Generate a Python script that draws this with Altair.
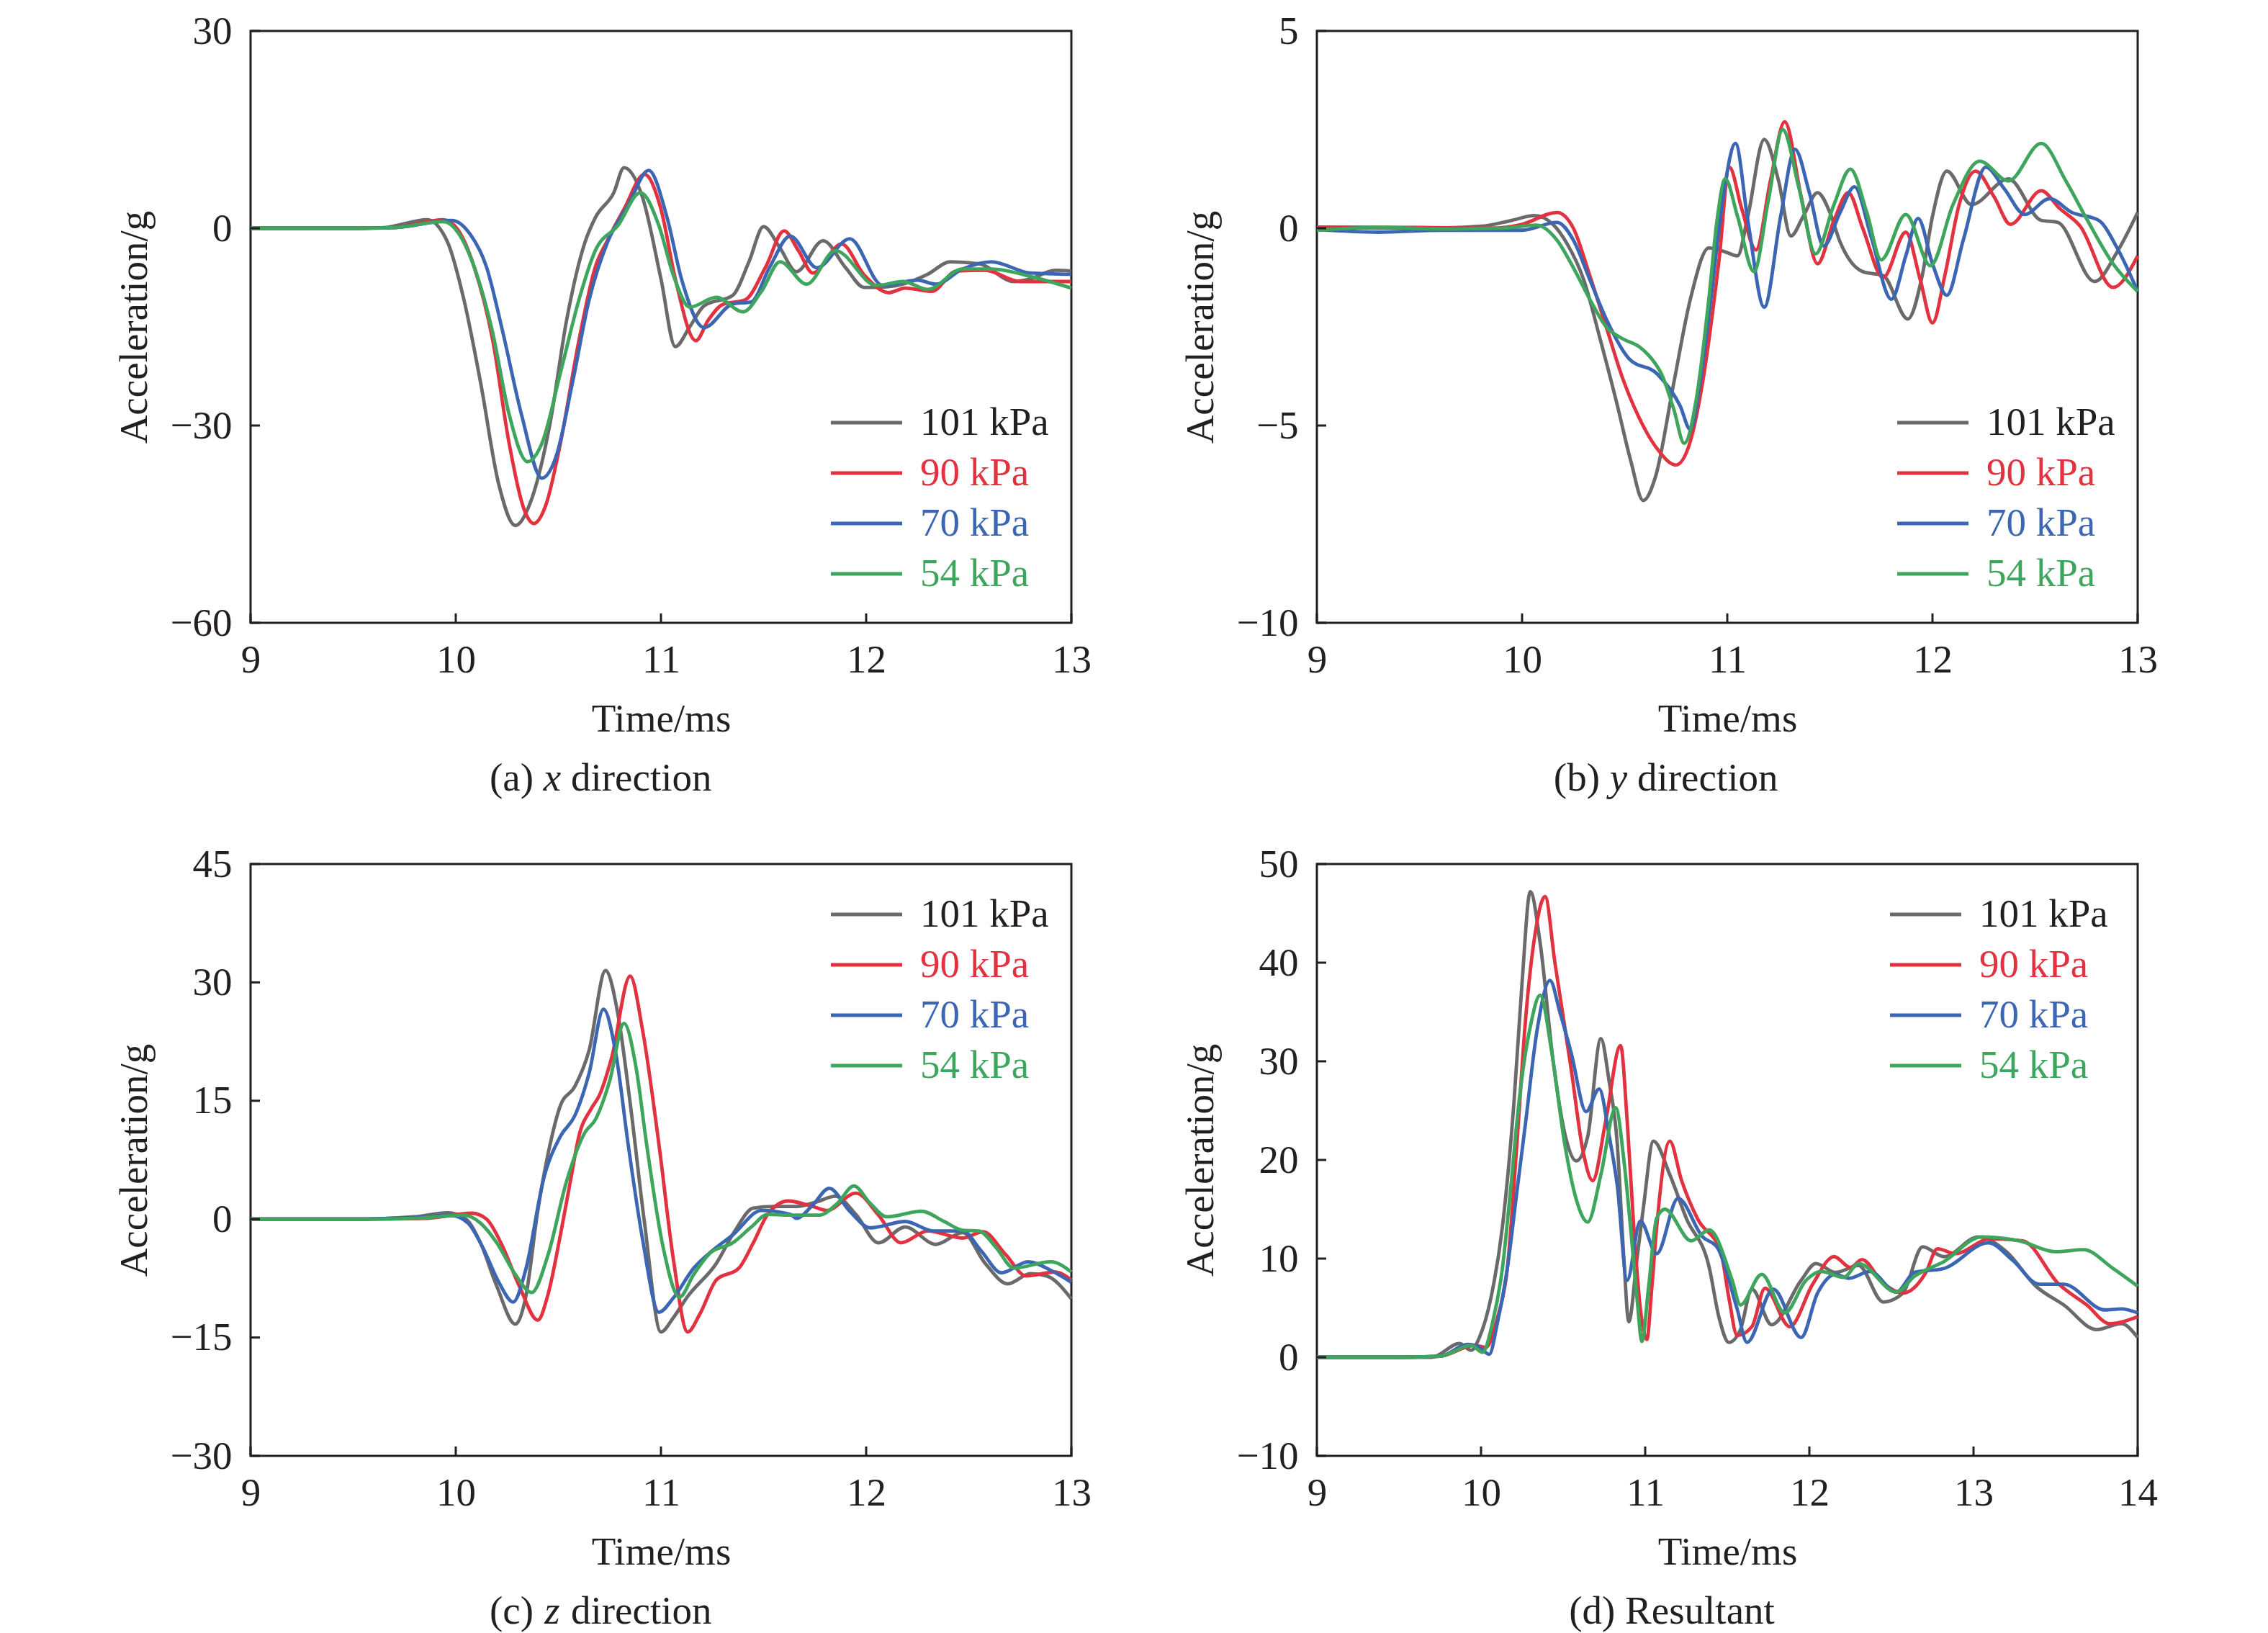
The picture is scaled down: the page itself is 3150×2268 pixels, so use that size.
import altair as alt
import pandas as pd

# series and colours
SERIES = ["101 kPa", "90 kPa", "70 kPa", "54 kPa"]
LINE_COLORS = ["#6a6a6a", "#e2313f", "#3b66b4", "#3ea55c"]
TEXT_COLORS = ["#231f20", "#e2313f", "#3b66b4", "#3ea55c"]

# %% (a) x direction, (time ms, acceleration g)
X_101 = [(9.0, 0), (9.5, 0), (9.65, 0.1), (9.86, 1.3), (9.96, -2.1), (10.04, -10.9), (10.12, -23.3),
         (10.21, -39.0), (10.29, -45.2), (10.36, -42.0), (10.46, -29.6), (10.54, -14.0), (10.63, -2.1),
         (10.68, 1.6), (10.77, 5.4), (10.82, 9.2), (10.91, 4.7), (11.0, -7.7), (11.07, -18.0), (11.14, -15.0),
         (11.21, -11.8), (11.35, -10.2), (11.43, -5.0), (11.5, 0.25), (11.58, -3.0), (11.66, -6.6), (11.79, -1.9),
         (11.9, -6.0), (11.99, -9.0), (12.1, -8.9), (12.19, -8.4), (12.3, -7.0), (12.41, -5.1), (12.55, -5.4),
         (12.72, -8.1), (12.8, -7.7), (12.92, -6.4), (13.0, -6.5)]
X_90 = [(9.0, 0), (9.5, 0), (9.7, 0.1), (9.94, 1.3), (10.01, -0.2), (10.09, -5.9), (10.18, -17.0),
        (10.26, -32.7), (10.34, -43.3), (10.38, -44.9), (10.44, -42.0), (10.51, -32.7), (10.6, -17.1),
        (10.68, -5.9), (10.74, -1.8), (10.82, 2.9), (10.92, 8.2), (11.0, 2.9), (11.07, -7.7), (11.17, -17.1),
        (11.23, -14.0), (11.3, -11.6), (11.41, -10.9), (11.51, -5.9), (11.6, -0.4), (11.67, -3.4), (11.74, -6.8),
        (11.88, -2.4), (11.99, -7.1), (12.11, -9.8), (12.19, -9.1), (12.32, -9.6), (12.44, -6.5), (12.58, -6.4),
        (12.75, -8.1), (13.0, -8.1)]
X_70 = [(9.0, 0), (9.5, 0), (9.7, 0.1), (9.98, 1.2), (10.07, -0.9), (10.15, -5.9), (10.23, -15.9),
        (10.32, -28.3), (10.42, -38.0), (10.49, -34.6), (10.57, -23.3), (10.65, -10.9), (10.74, -2.1),
        (10.84, 3.5), (10.94, 8.8), (11.03, 1.6), (11.1, -7.7), (11.21, -15.1), (11.35, -11.5), (11.44, -11.2),
        (11.53, -5.9), (11.63, -1.2), (11.76, -6.0), (11.92, -1.6), (12.08, -8.7), (12.25, -7.9), (12.34, -8.5),
        (12.47, -6.2), (12.61, -5.1), (12.8, -6.8), (13.0, -7.0)]
X_54 = [(9.0, 0), (9.5, 0), (9.7, 0.1), (9.94, 1.0), (10.01, -0.6), (10.09, -5.9), (10.18, -15.9),
        (10.26, -28.3), (10.35, -35.5), (10.42, -32.7), (10.51, -22.0), (10.6, -10.9), (10.68, -3.4),
        (10.79, 0.4), (10.9, 5.4), (10.99, 0.4), (11.06, -7.1), (11.14, -12.0), (11.27, -10.5), (11.4, -12.7),
        (11.49, -9.6), (11.58, -5.1), (11.71, -8.5), (11.85, -3.4), (12.05, -8.7), (12.18, -8.1), (12.3, -9.3),
        (12.47, -6.2), (12.61, -6.2), (12.81, -7.4), (13.0, -9.1)]

# %% (b) y direction
Y_101 = [(9.0, 0.02), (9.5, 0.0), (9.8, 0.05), (9.95, 0.2), (10.06, 0.32), (10.15, 0.1), (10.22, -0.4),
         (10.3, -1.3), (10.38, -2.8), (10.46, -4.4), (10.53, -5.9), (10.59, -6.9), (10.65, -6.3), (10.74, -3.9),
         (10.82, -1.8), (10.91, -0.5), (10.99, -0.6), (11.05, -0.7), (11.1, 0.3), (11.18, 2.25), (11.25, 1.2),
         (11.31, -0.2), (11.37, 0.3), (11.44, 0.9), (11.5, 0.4), (11.55, -0.35), (11.66, -1.1), (11.76, -1.2),
         (11.88, -2.3), (11.95, -1.2), (12.0, 0.3), (12.07, 1.45), (12.19, 0.6), (12.37, 1.25), (12.53, 0.2),
         (12.61, 0.15), (12.79, -1.35), (12.9, -0.6), (13.0, 0.4)]
Y_90 = [(9.0, 0.03), (9.5, 0.02), (9.85, 0.0), (10.0, 0.1), (10.17, 0.4), (10.25, 0.0), (10.33, -1.2),
        (10.41, -2.5), (10.49, -3.8), (10.57, -4.8), (10.66, -5.6), (10.75, -6.0), (10.82, -5.4), (10.88, -3.9),
        (10.96, -0.8), (11.01, 1.55), (11.07, 0.5), (11.14, -0.55), (11.21, 1.2), (11.28, 2.7), (11.36, 0.8),
        (11.44, -0.9), (11.52, 0.2), (11.59, 0.9), (11.66, 0.0), (11.76, -1.25), (11.87, -0.1), (11.94, -1.3),
        (12.0, -2.4), (12.06, -1.2), (12.13, 0.6), (12.21, 1.45), (12.3, 0.8), (12.38, 0.1), (12.53, 0.95),
        (12.62, 0.5), (12.72, 0.05), (12.88, -1.5), (13.0, -0.7)]
Y_70 = [(9.0, -0.03), (9.3, -0.1), (9.6, -0.05), (10.0, -0.05), (10.17, 0.15), (10.25, -0.3), (10.33, -1.3),
        (10.41, -2.3), (10.52, -3.3), (10.66, -3.7), (10.77, -4.5), (10.82, -5.1), (10.87, -3.8), (10.92, -1.8),
        (10.98, 0.8), (11.04, 2.15), (11.1, 0.2), (11.18, -2.0), (11.26, 0.3), (11.33, 2.0), (11.4, 0.9),
        (11.47, -0.45), (11.55, 0.4), (11.62, 1.05), (11.7, -0.2), (11.8, -1.8), (11.87, -0.7), (11.93, 0.25),
        (12.0, -0.9), (12.07, -1.7), (12.15, -0.3), (12.26, 1.55), (12.35, 1.0), (12.45, 0.35), (12.57, 0.75),
        (12.68, 0.4), (12.81, 0.2), (12.9, -0.5), (13.0, -1.6)]
Y_54 = [(9.0, -0.05), (9.3, 0.02), (9.6, -0.02), (9.9, 0.0), (10.07, 0.08), (10.17, -0.3), (10.25, -1.0),
        (10.33, -1.8), (10.41, -2.5), (10.49, -2.8), (10.57, -3.0), (10.63, -3.3), (10.68, -3.7), (10.74, -4.6),
        (10.79, -5.45), (10.85, -4.3), (10.91, -1.8), (10.95, 0.2), (10.99, 1.25), (11.05, 0.3), (11.13, -1.1),
        (11.2, 0.7), (11.27, 2.5), (11.35, 1.0), (11.43, -0.65), (11.52, 0.6), (11.6, 1.5), (11.68, 0.4),
        (11.75, -0.8), (11.87, 0.35), (11.99, -0.95), (12.1, 0.6), (12.23, 1.7), (12.37, 1.2), (12.53, 2.15),
        (12.65, 1.2), (12.75, 0.25), (12.88, -0.9), (13.0, -1.6)]

# %% (c) z direction
Z_101 = [(9.0, 0), (9.5, 0), (9.8, 0.3), (9.96, 0.8), (10.05, 0.0), (10.12, -3.0), (10.2, -8.5),
         (10.29, -13.3), (10.34, -10.0), (10.4, 1.1), (10.46, 9.5), (10.51, 14.4), (10.58, 16.8), (10.65, 21.4),
         (10.73, 31.5), (10.79, 26.0), (10.85, 14.7), (10.92, -0.5), (11.0, -14.3), (11.06, -12.5),
         (11.13, -9.8), (11.27, -5.6), (11.36, -1.5), (11.45, 1.4), (11.55, 1.6), (11.66, 1.6), (11.76, 2.2),
         (11.85, 2.9), (11.95, 0.6), (12.06, -3.0), (12.19, -1.0), (12.34, -3.2), (12.47, -1.7), (12.58, -5.6),
         (12.69, -8.2), (12.8, -6.9), (12.88, -7.2), (13.0, -10.1)]
Z_90 = [(9.0, 0), (9.5, 0), (9.85, 0.1), (10.08, 0.75), (10.15, 0.0), (10.22, -3.0), (10.31, -8.5),
        (10.4, -12.8), (10.45, -9.5), (10.51, -2.0), (10.56, 5.0), (10.6, 10.5), (10.66, 14.0), (10.7, 15.7),
        (10.76, 20.5), (10.85, 30.8), (10.91, 24.0), (10.99, 9.5), (11.06, -5.0), (11.13, -14.3), (11.19, -12.0),
        (11.27, -7.7), (11.38, -6.2), (11.45, -3.0), (11.52, 0.6), (11.62, 2.3), (11.74, 1.6), (11.81, 1.1),
        (11.95, 3.3), (12.06, 0.5), (12.17, -3.0), (12.3, -1.5), (12.47, -2.4), (12.57, -1.6), (12.68, -4.5),
        (12.78, -7.2), (12.92, -6.7), (13.0, -7.7)]
Z_70 = [(9.0, 0), (9.5, 0), (9.8, 0.2), (9.98, 0.45), (10.06, -0.5), (10.13, -3.5), (10.21, -8.0),
        (10.28, -10.5), (10.34, -6.5), (10.43, 5.3), (10.51, 10.5), (10.58, 13.1), (10.65, 18.5), (10.72, 26.6),
        (10.78, 21.0), (10.84, 9.5), (10.91, -2.5), (10.99, -11.8), (11.06, -10.0), (11.16, -6.2), (11.25, -4.0),
        (11.35, -2.0), (11.49, 1.1), (11.63, 0.6), (11.66, 0.1), (11.74, 1.8), (11.82, 3.9), (11.92, 1.0),
        (12.02, -1.1), (12.19, -0.3), (12.33, -1.5), (12.47, -1.5), (12.56, -4.0), (12.66, -6.8), (12.79, -5.4),
        (12.9, -6.5), (13.0, -8.0)]
Z_54 = [(9.0, 0), (9.5, 0), (9.8, 0.1), (10.04, 0.5), (10.12, -0.5), (10.2, -3.0), (10.29, -7.0),
        (10.37, -9.3), (10.45, -4.5), (10.54, 4.8), (10.63, 11.0), (10.68, 12.6), (10.75, 17.5), (10.82, 24.8),
        (10.88, 19.0), (10.93, 9.5), (11.01, -3.5), (11.09, -9.9), (11.16, -7.0), (11.24, -4.3), (11.35, -3.0),
        (11.44, -1.0), (11.52, 0.6), (11.63, 0.5), (11.77, 0.5), (11.86, 2.0), (11.94, 4.2), (12.02, 2.0),
        (12.1, 0.3), (12.27, 1.0), (12.38, -0.3), (12.47, -1.4), (12.55, -1.5), (12.63, -3.5), (12.72, -6.2),
        (12.9, -5.4), (13.0, -6.7)]

# %% (d) resultant
R_101 = [(9.0, 0), (9.5, 0), (9.7, 0), (9.87, 1.4), (9.94, 0.7), (9.99, 2.0), (10.06, 6.0), (10.13, 13.2),
         (10.2, 25.7), (10.25, 38.0), (10.3, 47.2), (10.36, 42.0), (10.44, 29.9), (10.52, 22.0), (10.58, 19.9),
         (10.65, 22.4), (10.73, 32.3), (10.78, 28.0), (10.83, 21.6), (10.87, 10.0), (10.9, 3.6), (10.95, 10.0),
         (10.99, 15.3), (11.05, 21.9), (11.15, 18.5), (11.25, 14.1), (11.39, 9.1), (11.45, 4.0), (11.51, 1.5),
         (11.58, 2.8), (11.65, 6.9), (11.77, 3.3), (11.95, 7.8), (12.04, 9.5), (12.16, 8.6), (12.3, 9.3),
         (12.45, 5.6), (12.57, 6.5), (12.69, 11.2), (12.82, 10.2), (13.03, 12.2), (13.2, 10.7), (13.38, 7.2),
         (13.55, 5.3), (13.75, 2.8), (13.9, 3.4), (14.0, 2.0)]
R_90 = [(9.0, 0), (9.5, 0), (9.75, 0.1), (9.96, 1.2), (10.03, 1.0), (10.1, 4.0), (10.16, 9.0), (10.22, 22.0),
        (10.27, 34.0), (10.33, 43.0), (10.39, 46.7), (10.45, 40.0), (10.55, 29.1), (10.62, 21.0), (10.68, 17.9),
        (10.76, 24.0), (10.85, 31.6), (10.89, 24.0), (10.93, 13.3), (10.97, 5.0), (11.01, 1.8), (11.04, 7.0),
        (11.07, 13.2), (11.15, 21.9), (11.22, 18.0), (11.32, 14.0), (11.46, 10.7), (11.51, 6.0), (11.56, 2.2),
        (11.65, 3.1), (11.73, 7.0), (11.88, 3.1), (12.02, 7.4), (12.15, 10.2), (12.25, 9.1), (12.32, 9.9),
        (12.45, 7.5), (12.57, 6.5), (12.71, 8.6), (12.78, 11.0), (12.89, 10.5), (13.1, 12.0), (13.3, 11.8),
        (13.52, 7.4), (13.69, 5.3), (13.83, 3.4), (14.0, 4.1)]
R_70 = [(9.0, 0), (9.5, 0), (9.75, 0.1), (9.92, 1.3), (9.99, 1.0), (10.05, 0.3), (10.1, 3.5), (10.16, 9.0),
        (10.22, 17.0), (10.27, 23.6), (10.34, 33.0), (10.42, 38.2), (10.48, 35.0), (10.55, 30.8), (10.64, 24.9),
        (10.72, 27.2), (10.78, 22.5), (10.83, 17.4), (10.89, 7.8), (10.97, 13.8), (11.07, 10.5), (11.2, 16.1),
        (11.35, 12.2), (11.44, 11.1), (11.56, 4.9), (11.62, 1.5), (11.78, 6.9), (11.95, 2.0), (12.05, 6.5),
        (12.16, 8.4), (12.24, 8.0), (12.37, 8.7), (12.53, 6.6), (12.64, 8.6), (12.82, 9.0), (13.09, 11.6),
        (13.24, 9.8), (13.4, 7.4), (13.55, 7.4), (13.8, 4.8), (13.9, 4.9), (14.0, 4.5)]
R_54 = [(9.0, 0), (9.5, 0), (9.75, 0.1), (9.94, 1.2), (10.01, 0.5), (10.07, 3.5), (10.13, 9.0), (10.18, 17.0),
        (10.23, 25.7), (10.3, 33.5), (10.36, 36.7), (10.43, 31.0), (10.51, 21.6), (10.58, 16.0), (10.65, 13.7),
        (10.73, 18.5), (10.82, 25.3), (10.87, 20.0), (10.91, 13.3), (10.95, 6.0), (10.98, 1.6), (11.02, 7.0),
        (11.07, 14.1), (11.12, 15.0), (11.28, 11.8), (11.39, 12.9), (11.53, 7.8), (11.58, 5.3), (11.71, 8.4),
        (11.85, 4.5), (11.98, 7.8), (12.07, 8.7), (12.21, 8.1), (12.3, 9.5), (12.53, 6.6), (12.64, 8.2),
        (12.82, 9.7), (13.05, 12.2), (13.28, 11.8), (13.5, 10.7), (13.67, 10.9), (13.85, 9.0), (14.0, 7.2)]

# axis ticks
T_TICKS_4 = [9, 10, 11, 12, 13]
T_TICKS_5 = [9, 10, 11, 12, 13, 14]
A_TICKS_X = [-60, -30, 0, 30]
A_TICKS_Y = [-10, -5, 0, 5]
A_TICKS_Z = [-30, -15, 0, 15, 30, 45]
A_TICKS_R = [-10, 0, 10, 20, 30, 40, 50]

# %% layout bits
W, H = 1140, 822
FONT = "Liberation Serif"
FS = 55
INK = "#231f20"


def frame(curves):
    rows = []
    for name, pts in zip(SERIES, curves):
        for t, a in pts:
            rows.append({"series": name, "time": t, "acc": a})
    return pd.DataFrame(rows)


def label(text, x, y, align="center", style="normal", color=INK):
    return (
        alt.Chart(pd.DataFrame({"s": [text]}))
        .mark_text(font=FONT, fontSize=FS, fontStyle=style, align=align, baseline="middle", color=color)
        .encode(x=alt.value(x), y=alt.value(y), text="s:N")
    )


def panel(curves, xticks, yticks, caption, legend_top, legend_left):
    xs = alt.Scale(domain=[xticks[0], xticks[-1]], nice=False, zero=False)
    ys = alt.Scale(domain=[yticks[0], yticks[-1]], nice=False, zero=False)
    xax = alt.Axis(values=xticks, title="Time/ms", titleX=W / 2, titleY=133,
                   titleBaseline="middle", labelPadding=25)
    yax = alt.Axis(values=yticks, title="Acceleration/g", titleX=-162, titleY=H / 2,
                   titleAngle=270, titleAlign="center", titleBaseline="middle", labelPadding=26)
    X = alt.X("time:Q", scale=xs, axis=xax)
    Y = alt.Y("acc:Q", scale=ys, axis=yax)
    lines = (
        alt.Chart(frame(curves))
        .mark_line(interpolate="monotone", strokeWidth=4.8)
        .encode(
            x=X, y=Y,
            color=alt.Color("series:N", scale=alt.Scale(domain=SERIES, range=LINE_COLORS), legend=None),
        )
    )
    # inward ticks
    ytk = (
        alt.Chart(pd.DataFrame({"acc": yticks}))
        .mark_rule(color=INK, strokeWidth=3)
        .encode(y=Y, x=alt.value(0), x2=alt.value(13))
    )
    xtk = (
        alt.Chart(pd.DataFrame({"time": xticks}))
        .mark_rule(color=INK, strokeWidth=3)
        .encode(x=X, y=alt.value(H), y2=alt.value(H - 13))
    )
    layers = [lines, ytk, xtk]
    # legend
    for i, (name, lc, tc) in enumerate(zip(SERIES, LINE_COLORS, TEXT_COLORS)):
        yy = legend_top + 70 * i
        layers.append(
            alt.Chart(pd.DataFrame({"s": [name]}))
            .mark_rule(color=lc, strokeWidth=5)
            .encode(x=alt.value(legend_left), x2=alt.value(legend_left + 99), y=alt.value(yy))
        )
        layers.append(label(name, legend_left + 124, yy, align="left", color=tc))
    # caption under the panel
    cy = H + 216
    if len(caption) == 3:
        layers.append(label(caption[0], 393, cy, align="right"))
        layers.append(label(caption[1], 419, cy, style="italic"))
        layers.append(label(caption[2], 445, cy, align="left"))
    else:
        layers.append(label(caption[0], 493, cy))
    return alt.layer(*layers).properties(width=W, height=H)


pa = panel([X_101, X_90, X_70, X_54], T_TICKS_4, A_TICKS_X, ["(a)", "x", "direction"], 544, 806)
pb = panel([Y_101, Y_90, Y_70, Y_54], T_TICKS_4, A_TICKS_Y, ["(b)", "y", "direction"], 544, 806)
pc = panel([Z_101, Z_90, Z_70, Z_54], T_TICKS_4, A_TICKS_Z, ["(c)", "z", "direction"], 70, 806)
pd_ = panel([R_101, R_90, R_70, R_54], T_TICKS_5, A_TICKS_R, ["(d) Resultant"], 70, 796)

chart = (
    alt.vconcat(alt.hconcat(pa, pb, spacing=121), alt.hconcat(pc, pd_, spacing=121), spacing=60)
    .properties(padding={"left": 149, "top": 6, "right": 0, "bottom": 0}, background="white")
    .configure_view(stroke=INK, strokeWidth=3)
    .configure_axis(
        grid=False, domain=False, ticks=False, tickSize=0,
        labelFont=FONT, labelFontSize=FS, labelColor=INK, labelFlush=False, labelOverlap=False,
        titleFont=FONT, titleFontSize=FS, titleColor=INK, titleFontWeight="normal",
    )
)

chart.save("out.html", embed_options={"renderer": "svg", "actions": False})
